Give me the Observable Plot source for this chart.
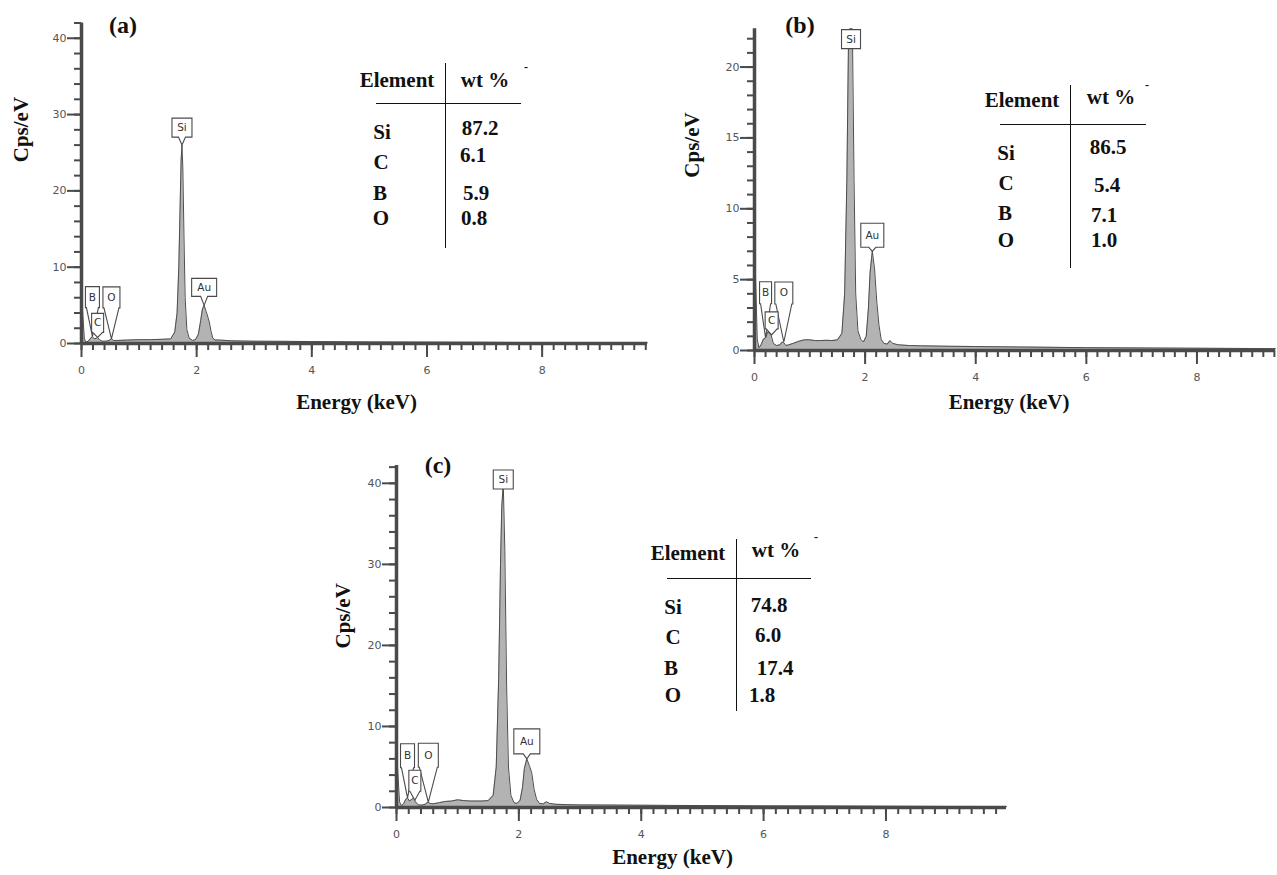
<!DOCTYPE html>
<html><head><meta charset="utf-8">
<script src="https://cdn.jsdelivr.net/npm/d3@7"></script>
<script src="https://cdn.jsdelivr.net/npm/@observablehq/plot@0.6"></script>
<style>
html,body{margin:0;padding:0;background:#fff;overflow:hidden}
#root{position:relative;width:1277px;height:875px;background:#fff;font-family:"Liberation Serif","Times New Roman",serif}
.panel{position:absolute}
.panel svg{max-width:none !important;height:auto}
.t{position:absolute;transform:translate(-50%,-50%);font-weight:bold;font-size:21px;line-height:1;white-space:nowrap;color:#111}
.vl{position:absolute;width:0;border-left:1.6px solid #111}
.hl{position:absolute;height:0;border-top:1.6px solid #111}
</style></head><body><div id="root"></div>
<script>
// ---------- data ----------
// EDS spectra: [energy keV, counts cps/eV]
const specA = [
[0,8],[0.02,4],[0.05,0.6],[0.08,0.2],[0.12,0.3],[0.16,0.7],[0.19,0.9],[0.22,0.6],[0.26,0.7],[0.28,0.8],[0.31,0.5],[0.36,0.3],[0.42,0.3],[0.48,0.4],[0.52,0.6],[0.56,0.4],[0.62,0.4],[0.8,0.45],[1.0,0.5],[1.2,0.5],[1.4,0.55],[1.55,0.6],[1.62,1.5],[1.66,4],[1.69,10],[1.71,17],[1.73,24],[1.745,26],[1.76,23],[1.78,14],[1.80,6],[1.83,1.8],[1.87,0.7],[1.93,0.4],[1.98,0.5],[2.03,1.2],[2.07,3],[2.10,4.5],[2.13,5],[2.16,4.3],[2.19,3.6],[2.22,2.8],[2.25,1.6],[2.28,0.7],[2.32,0.45],[2.40,0.45],[2.6,0.35],[3.0,0.3],[3.5,0.28],[4,0.25],[5,0.2],[6,0.18],[7,0.15],[8,0.12],[9,0.1],[9.83,0.1]
];
const specB = [
[0,8.7],[0.02,5],[0.05,0.8],[0.08,0.2],[0.12,0.4],[0.16,0.8],[0.2,0.9],[0.24,1.3],[0.27,1.2],[0.3,1.1],[0.34,0.5],[0.4,0.35],[0.46,0.4],[0.5,0.6],[0.53,0.55],[0.57,0.35],[0.62,0.4],[0.7,0.5],[0.8,0.65],[0.9,0.75],[1.0,0.75],[1.1,0.7],[1.2,0.7],[1.3,0.72],[1.4,0.7],[1.5,0.75],[1.58,1.2],[1.63,4],[1.67,12],[1.7,22],[1.72,28],[1.745,30],[1.77,24],[1.8,12],[1.83,4],[1.87,1.4],[1.92,0.8],[1.97,0.6],[2.02,1.0],[2.06,3],[2.09,5.5],[2.13,7],[2.17,5.8],[2.21,3.5],[2.25,1.8],[2.29,0.8],[2.34,0.5],[2.4,0.45],[2.45,0.7],[2.5,0.5],[2.6,0.4],[2.8,0.35],[3.0,0.33],[3.5,0.3],[4,0.28],[4.5,0.26],[5,0.24],[6,0.2],[7,0.18],[8,0.16],[9,0.14],[9.42,0.13]
];
const specC = [
[0,8],[0.02,4.5],[0.05,0.7],[0.08,0.2],[0.12,0.5],[0.15,1.0],[0.18,1.2],[0.21,0.8],[0.25,1.0],[0.28,1.2],[0.31,0.7],[0.36,0.3],[0.42,0.3],[0.47,0.4],[0.5,0.6],[0.52,0.65],[0.55,0.5],[0.6,0.45],[0.7,0.6],[0.8,0.75],[0.9,0.8],[1.0,0.95],[1.1,0.85],[1.2,0.8],[1.3,0.8],[1.4,0.8],[1.5,0.85],[1.58,1.5],[1.63,5],[1.67,16],[1.7,30],[1.72,37],[1.745,40],[1.77,32],[1.8,15],[1.83,5],[1.87,1.5],[1.92,0.6],[1.97,0.5],[2.02,0.9],[2.06,2.5],[2.09,4.8],[2.13,6],[2.17,5.2],[2.21,4.3],[2.25,2.2],[2.29,1.0],[2.34,0.5],[2.4,0.45],[2.45,0.7],[2.5,0.5],[2.6,0.4],[2.8,0.35],[3.0,0.32],[3.5,0.3],[4,0.28],[4.5,0.26],[5,0.24],[6,0.2],[7,0.18],[8,0.15],[9,0.13],[9.97,0.12]
];
// peak labels: element, energy (keV), counts where the label points
const peaksA = [{el:"B",e:0.19,y:0.9},{el:"O",e:0.52,y:0.6},{el:"C",e:0.28,y:0.8},{el:"Si",e:1.745,y:26},{el:"Au",e:2.13,y:5}];
const peaksB = [{el:"B",e:0.2,y:0.9},{el:"O",e:0.53,y:0.6},{el:"C",e:0.31,y:1.1},{el:"Si",e:1.745,y:21.3},{el:"Au",e:2.13,y:7}];
const peaksC = [{el:"B",e:0.18,y:1.2},{el:"O",e:0.52,y:0.65},{el:"C",e:0.3,y:0.9},{el:"Si",e:1.745,y:39.3},{el:"Au",e:2.13,y:6}];
// composition tables
const tableElements = ["Si","C","B","O"];
const wtA = ["87.2","6.1","5.9","0.8"];
const wtB = ["86.5","5.4","7.1","1.0"];
const wtC = ["74.8","6.0","17.4","1.8"];
const xTickLabels = [0,2,4,6,8];
const yTicksA = [0,10,20,30,40];
const yTicksB = [0,5,10,15,20];
const yTicksC = [0,10,20,30,40];

// ---------- layout / style ----------
const panels = [
 {id:"a", spec:specA, peaks:peaksA, yTicks:yTicksA, yMinorStep:2, xMax:9.83, yMax:42,
  left:0, top:0, width:660, height:430, mL:81, mR:13, mT:22.5, mB:87,
  xTitle:{dx:-8, dy:65}, yTitle:{dx:-60, dy:-21},
  box:{B:[14,21,29],C:[12,19,5],O:[17,21,31],Si:[20,19,8],Au:[25,18,9]},
  letter:[123,25], wt:wtA,
  tbl:{head:[[397,80],[485,80]], dash:[526,67], el:[[382,132],[381,162],[380,193],[381,218]], val:[[480,128],[473,155],[476,193],[474,218]], v:[445,63,248], h:[376,521,103]}},
 {id:"b", spec:specB, peaks:peaksB, yTicks:yTicksB, yMinorStep:1, xMax:9.42, yMax:22.7,
  left:660, top:0, width:617, height:430, mL:94, mR:2, mT:28.3, mB:80,
  xTitle:{dx:-6, dy:58}, yTitle:{dx:-62, dy:-12},
  box:{B:[12,22,34],C:[13,17,6],O:[18,22,38],Si:[19,19,0],Au:[23,24,4]},
  letter:[800,25], wt:wtB,
  tbl:{head:[[1022,100],[1111,97]], dash:[1147,85], el:[[1006,153],[1006,183],[1005,213],[1006,240]], val:[[1108,147],[1107,185],[1104,215],[1104,240]], v:[1070,85,268], h:[1000,1146,124]}},
 {id:"c", spec:specC, peaks:peaksC, yTicks:yTicksC, yMinorStep:2, xMax:9.97, yMax:42.2,
  left:320, top:440, width:700, height:435, mL:76, mR:14, mT:25, mB:68,
  xTitle:{dx:-29, dy:56}, yTitle:{dx:-53, dy:12},
  box:{B:[14,24,30],C:[12,21,9],O:[20,24,35],Si:[20,19,0],Au:[26,25,5]},
  letter:[438,465], wt:wtC,
  tbl:{head:[[688,553],[776,550]], dash:[816,537], el:[[673,607],[673,637],[671,668],[673,695]], val:[[769,605],[768,635],[775,668],[762,695]], v:[736,539,711], h:[667,811,578]}}
];

function callout(w, h, gap, nw) {
  return {draw(ctx) {
    if (gap <= 0) { ctx.rect(-w/2, -h, w, h); return; }
    ctx.moveTo(0, 0);
    ctx.lineTo(-nw, -gap);
    ctx.lineTo(-w/2, -gap);
    ctx.lineTo(-w/2, -gap - h);
    ctx.lineTo(w/2, -gap - h);
    ctx.lineTo(w/2, -gap);
    ctx.lineTo(nw, -gap);
    ctx.closePath();
  }};
}

const root = document.getElementById("root");
const axisCol = "#4a4a4a";
const tickFont = "DejaVu Sans";

for (const p of panels) {
  const xMinor = d3.range(0, p.xMax + 1e-9, 0.2);
  const yMinor = d3.range(0, p.yMax + 1e-9, p.yMinorStep);
  const labelMarks = [];
  for (const pk of p.peaks) {
    const [w, h, gap] = p.box[pk.el];
    const nw = (pk.el === "Si" || pk.el === "Au") ? 3.5 : w/2 - 1;
    labelMarks.push(Plot.dot([pk], {x:"e", y:"y", r:1, symbol: callout(w, h, gap, nw), fill:"white", stroke:"#4a4a4a", strokeWidth:1.1}));
    labelMarks.push(Plot.text([pk], {x:"e", y:"y", text:"el", dy: -(gap + h/2), fontSize:10.5, fontFamily:tickFont, fill:"#333"}));
  }
  const chart = Plot.plot({
    width:p.width, height:p.height,
    marginLeft:p.mL, marginRight:p.mR, marginTop:p.mT, marginBottom:p.mB,
    x:{domain:[0, p.xMax], axis:null},
    y:{domain:[0, p.yMax], axis:null, clamp:true},
    marks:[
      Plot.areaY(p.spec, {x:d=>d[0], y:d=>d[1], fill:"#b3b3b3"}),
      Plot.line(p.spec, {x:d=>d[0], y:d=>d[1], stroke:"#4d4d4d", strokeWidth:1}),
      // x ticks (downward)
      Plot.ruleX(xMinor, {x:d=>d, y1:0, y2:0, insetBottom:-7, stroke:axisCol, strokeWidth:2}),
      Plot.ruleX(xTickLabels, {x:d=>d, y1:0, y2:0, insetBottom:-14, stroke:axisCol, strokeWidth:2}),
      Plot.text(xTickLabels, {x:d=>d, y:0, text:d=>String(d), dy:27, fill:"#555", fontSize:11, fontFamily:tickFont}),
      // y ticks (leftward)
      Plot.ruleY(yMinor, {y:d=>d, x1:0, x2:0, insetLeft:-7, stroke:axisCol, strokeWidth:2}),
      Plot.ruleY(p.yTicks, {y:d=>d, x1:0, x2:0, insetLeft:-14, stroke:axisCol, strokeWidth:2}),
      Plot.text(p.yTicks, {x:0, y:d=>d, text:d=>String(d), dx:-15, textAnchor:"end", fill:"#555", fontSize:11, fontFamily:tickFont}),
      // axis lines
      Plot.ruleY([0], {stroke:axisCol, strokeWidth:3.5}),
      Plot.ruleX([0], {stroke:axisCol, strokeWidth:3.5}),
      ...labelMarks,
      Plot.text(["Energy (keV)"], {text:d=>d, frameAnchor:"bottom", dx:p.xTitle.dx, dy:p.xTitle.dy, fontFamily:"Liberation Serif", fontWeight:"bold", fontSize:21, fill:"#111"}),
      Plot.text(["Cps/eV"], {text:d=>d, frameAnchor:"left", rotate:-90, dx:p.yTitle.dx, dy:p.yTitle.dy, fontFamily:"Liberation Serif", fontWeight:"bold", fontSize:21, fill:"#111"})
    ]
  });
  const holder = document.createElement("div");
  holder.className = "panel";
  holder.style.left = p.left + "px";
  holder.style.top = p.top + "px";
  holder.appendChild(chart);
  root.appendChild(holder);

  // panel letter
  const L = document.createElement("div");
  L.className = "t"; L.style.fontSize = "24px";
  L.style.left = p.letter[0] + "px"; L.style.top = p.letter[1] + "px";
  L.textContent = "(" + p.id + ")";
  root.appendChild(L);

  // composition table
  const t = p.tbl;
  const addText = (txt, xy, extra) => {
    const d = document.createElement("div");
    d.className = "t"; d.textContent = txt;
    d.style.left = xy[0] + "px"; d.style.top = xy[1] + "px";
    if (extra) Object.assign(d.style, extra);
    root.appendChild(d);
  };
  addText("Element", t.head[0]);
  addText("wt %", t.head[1]);
  addText("-", t.dash, {fontSize:"12px"});
  tableElements.forEach((el, i) => addText(el, t.el[i]));
  p.wt.forEach((v, i) => addText(v, t.val[i]));
  const vl = document.createElement("div");
  vl.className = "vl";
  vl.style.left = t.v[0] + "px"; vl.style.top = t.v[1] + "px"; vl.style.height = (t.v[2] - t.v[1]) + "px";
  root.appendChild(vl);
  const hl = document.createElement("div");
  hl.className = "hl";
  hl.style.left = t.h[0] + "px"; hl.style.top = t.h[2] + "px"; hl.style.width = (t.h[1] - t.h[0]) + "px";
  root.appendChild(hl);
}
</script></body></html>
